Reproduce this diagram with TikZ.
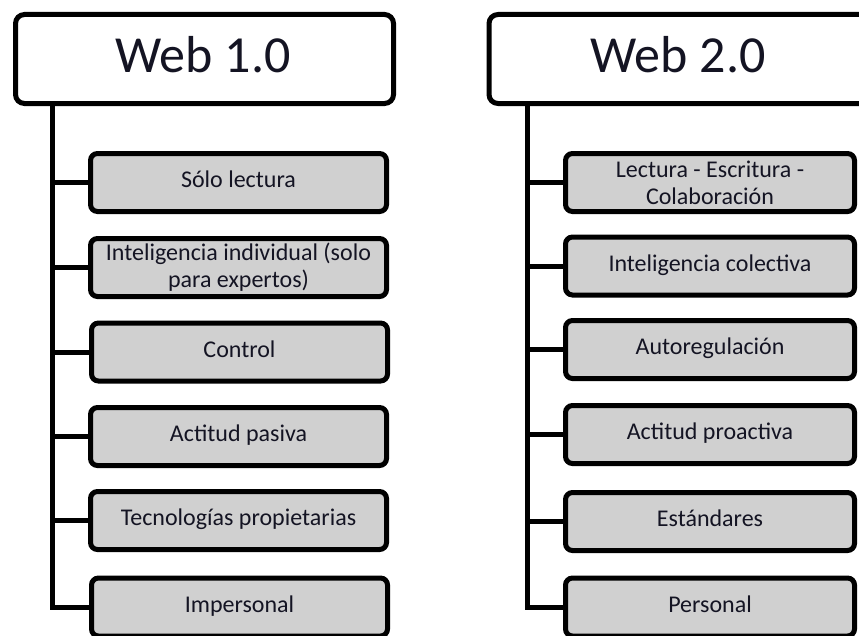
\documentclass[tikz,border=0pt]{standalone}
\usepackage{fontspec}
\setmainfont{Carlito}
\newlength\px
\setlength\px{0.75pt}
\definecolor{itemgray}{RGB}{208,208,208}
\definecolor{inktext}{RGB}{20,20,35}
\tikzset{
  header/.style={draw=black, line width=5*\px, rounded corners=9*\px, fill=white,
    minimum width=378*\px, minimum height=89*\px, inner sep=0pt},
  title/.style={anchor=base, inner sep=0pt, text=inktext,
    font=\fontsize{39}{44}\selectfont},
  itembox/.style={draw=black, line width=5*\px, rounded corners=7*\px, fill=itemgray,
    minimum height=58*\px, inner sep=0pt, align=center,
    text=inktext, font=\fontsize{18}{20.25}\selectfont},
  single/.style={text height=12pt, text depth=4pt},
  leftitem/.style={itembox, minimum width=296*\px},
  rightitem/.style={itembox, minimum width=289*\px},
  branch/.style={draw=black, line width=5*\px}
}
\begin{document}
\begin{tikzpicture}[x=0.75pt, y=-0.75pt]
  \useasboundingbox (0,0) rectangle (859,635);
  \clip (0,0) rectangle (859,635);

  % Web 1.0 column
  \node[header] (h1) at (204.5,59) {};
  \node[title] (h1t) at (203,72) {Web 1.0};
  \coordinate (t1) at (52,104);
  \node[leftitem, single] (a1) at (238.5,182.5) {Sólo lectura};
  \node[leftitem] (a2) at (238.5,267.5) {Inteligencia individual (solo\\para expertos)};
  \node[leftitem, single] (a3) at (239.5,352) {Control};
  \node[leftitem, single] (a4) at (238.5,436.5) {Actitud pasiva};
  \node[leftitem, single] (a5) at (238.5,520.5) {Tecnologías propietarias};
  \node[leftitem, single] (a6) at (239.5,607) {Impersonal};

  % Web 2.0 column (runs past the right edge)
  \node[header, minimum width=420*\px] (h2) at (699,59) {};
  \node[title] (h2t) at (678,72) {Web 2.0};
  \coordinate (t2) at (527,104);
  \node[rightitem] (b1) at (710,182.5) {Lectura - Escritura -\\Colaboración};
  \node[rightitem, single] (b2) at (710,266) {Inteligencia colectiva};
  \node[rightitem, single] (b3) at (710,349.5) {Autoregulación};
  \node[rightitem, single] (b4) at (710,434.5) {Actitud proactiva};
  \node[rightitem, single] (b5) at (710,521.5) {Estándares};
  \node[rightitem, single] (b6) at (710,607) {Personal};

  % trunks and branches
  \draw[branch] (t1) |- (a6.west);
  \foreach \n in {a1,a2,a3,a4,a5} \draw[branch] (t1 |- \n.west) -- (\n.west);
  \draw[branch] (t2) |- (b6.west);
  \foreach \n in {b1,b2,b3,b4,b5} \draw[branch] (t2 |- \n.west) -- (\n.west);
\end{tikzpicture}
\end{document}
